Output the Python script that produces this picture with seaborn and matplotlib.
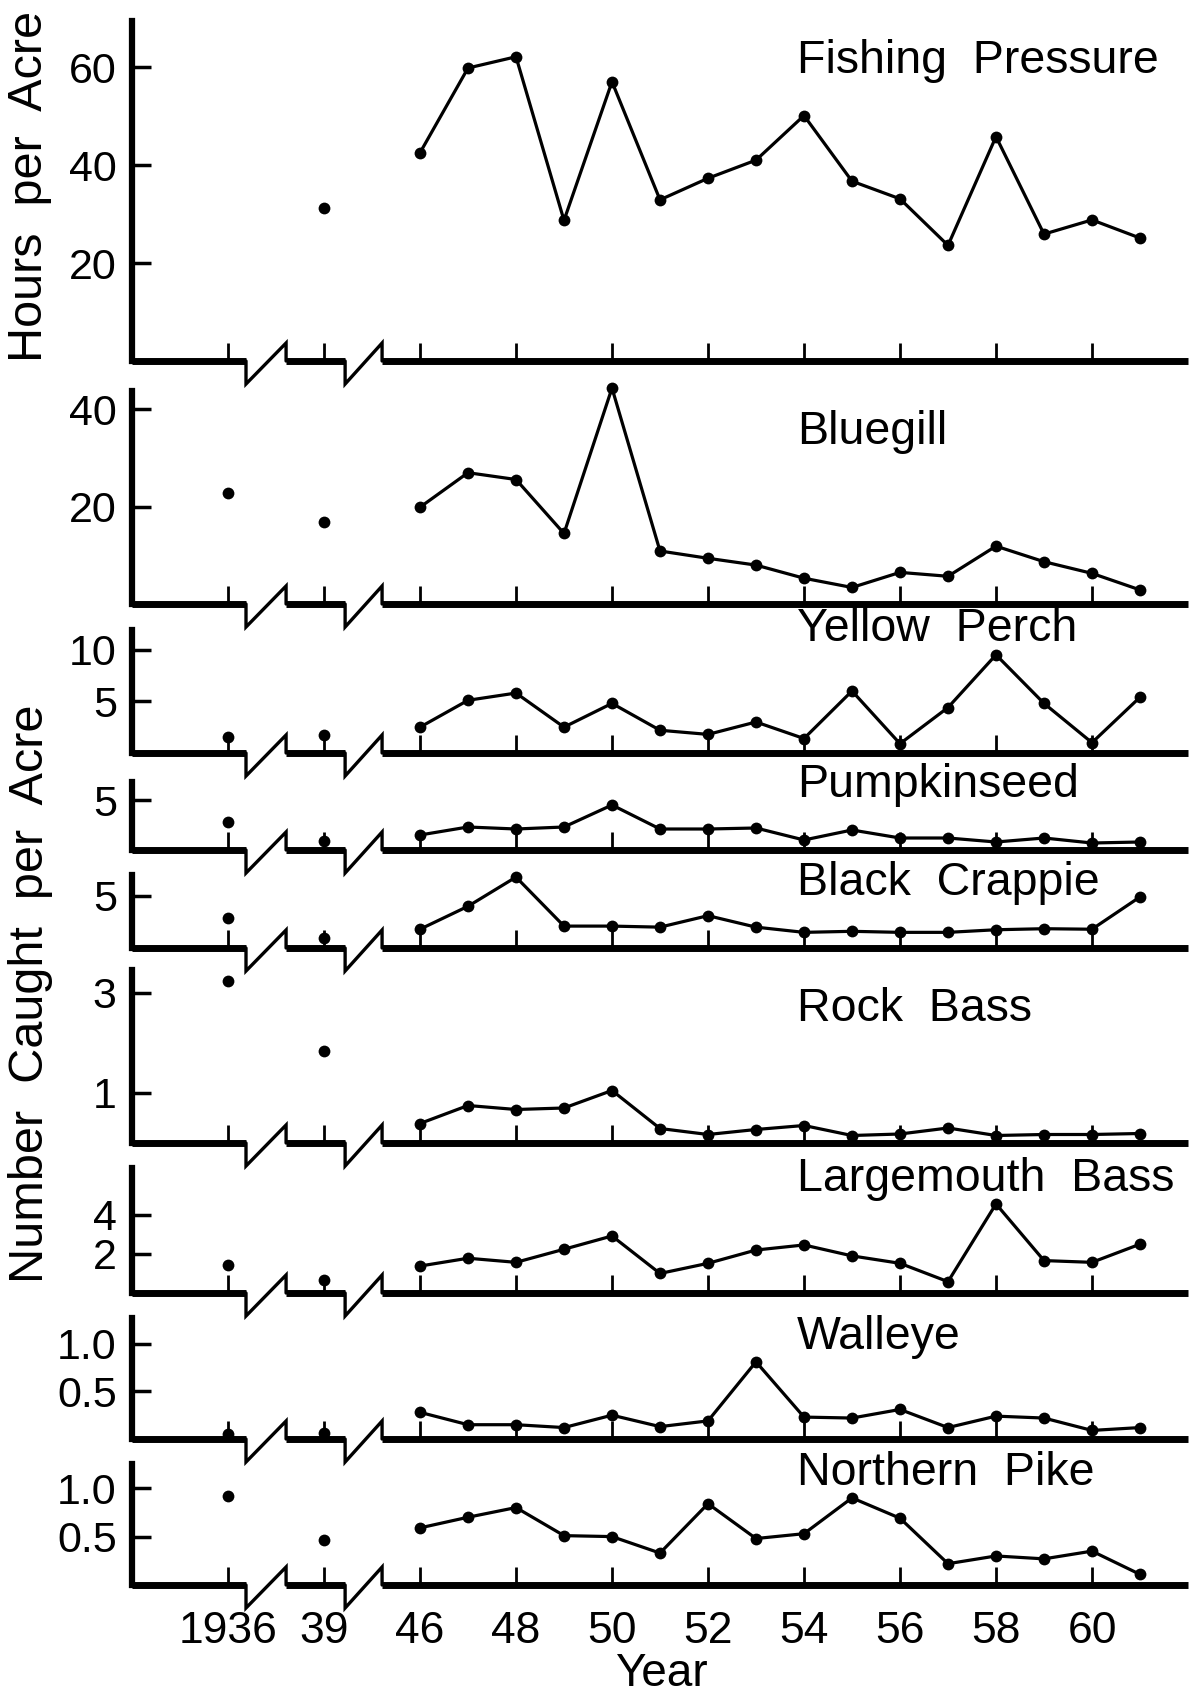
import numpy as np
import pandas as pd
import matplotlib
matplotlib.use("Agg")
import matplotlib.pyplot as plt
import seaborn as sns

# ---------------- data ----------------
years = [1936, 1939, 1946, 1947, 1948, 1949, 1950, 1951, 1952, 1953,
         1954, 1955, 1956, 1957, 1958, 1959, 1960, 1961]
nan = np.nan
fishing_pressure = [nan, 31.3, 42.5, 59.8, 62.1, 28.7, 57.0, 32.9, 37.3, 41.0,
                    50.1, 36.7, 33.1, 23.6, 45.8, 25.9, 28.8, 25.1]
bluegill = [22.9, 16.8, 19.9, 27.0, 25.6, 14.5, 44.4, 10.9, 9.4, 8.0,
            5.3, 3.4, 6.5, 5.7, 11.9, 8.7, 6.3, 2.9]
yellow_perch = [1.5, 1.7, 2.5, 5.1, 5.8, 2.5, 4.8, 2.2, 1.8, 3.0,
                1.4, 6.0, 0.9, 4.4, 9.5, 4.8, 1.0, 5.4]
pumpkinseed = [2.8, 0.9, 1.5, 2.3, 2.1, 2.3, 4.5, 2.1, 2.1, 2.2,
               1.0, 2.0, 1.2, 1.2, 0.8, 1.2, 0.7, 0.8]
black_crappie = [2.9, 1.0, 1.8, 4.0, 6.8, 2.1, 2.1, 2.0, 3.1, 2.0,
                 1.5, 1.6, 1.5, 1.5, 1.75, 1.85, 1.8, 4.9]
rock_bass = [3.23, 1.85, 0.39, 0.75, 0.67, 0.70, 1.05, 0.29, 0.17, 0.27,
             0.35, 0.15, 0.18, 0.30, 0.15, 0.17, 0.17, 0.19]
largemouth_bass = [1.44, 0.67, 1.38, 1.78, 1.57, 2.24, 2.92, 1.0, 1.52, 2.2,
                   2.46, 1.9, 1.52, 0.58, 4.56, 1.66, 1.57, 2.5]
walleye = [0.05, 0.06, 0.28, 0.15, 0.15, 0.12, 0.25, 0.13, 0.19, 0.81,
           0.23, 0.22, 0.31, 0.12, 0.24, 0.22, 0.09, 0.12]
northern_pike = [0.92, 0.47, 0.59, 0.70, 0.80, 0.51, 0.50, 0.33, 0.84, 0.48,
                 0.53, 0.90, 0.69, 0.22, 0.30, 0.27, 0.35, 0.11]

tick_years = [1936, 1939, 1946, 1948, 1950, 1952, 1954, 1956, 1958, 1960]
tick_labels = ["1936", "39", "46", "48", "50", "52", "54", "56", "58", "60"]

titles = ["Fishing  Pressure", "Bluegill", "Yellow  Perch", "Pumpkinseed",
          "Black  Crappie", "Rock  Bass", "Largemouth  Bass", "Walleye",
          "Northern  Pike"]
series = [fishing_pressure, bluegill, yellow_perch, pumpkinseed, black_crappie,
          rock_bass, largemouth_bass, walleye, northern_pike]
yticks = [[20, 40, 60], [20, 40], [5, 10], [5], [5], [1, 3], [2, 4],
          [0.5, 1.0], [0.5, 1.0]]
ytick_labels = [["20", "40", "60"], ["20", "40"], ["5", "10"], ["5"], ["5"],
                ["1", "3"], ["2", "4"], ["0.5", "1.0"], ["0.5", "1.0"]]


def axis_position(year):
    """Broken time axis: 1936 and 1939 are squeezed in front of 1946."""
    if year == 1936:
        return 0
    if year == 1939:
        return 2
    return year - 1942


# ---------------- layout ----------------
W, H = 1199, 1693
LEFT, RIGHT = 132, 1188
XMIN, XMAX = -2, 20
# (top px, baseline px, y max)
layout = [(21, 361, 69.4), (391, 604, 43.8), (630, 753, 11.9), (782, 850, 6.8),
          (875, 948, 7.0), (970, 1143, 3.46), (1168, 1293, 6.4),
          (1318, 1439, 1.27), (1464, 1585, 1.25)]
title_baseline = [73, 444, 641, 797, 895, 1021, 1191, 1349, 1485]

sns.set_style("white")
plt.rcParams["font.family"] = ["Liberation Sans", "DejaVu Sans"]
plt.rcParams["text.color"] = "black"
plt.rcParams["xtick.color"] = "black"
plt.rcParams["ytick.color"] = "black"
plt.rcParams["xtick.labelcolor"] = "black"
plt.rcParams["ytick.labelcolor"] = "black"

fig = plt.figure(figsize=(W / 100, H / 100), dpi=100)

breaks = [(0.375, 1.21), (2.44, 3.21)]
tick_pos = [axis_position(y) for y in tick_years]

for i, (title, vals) in enumerate(zip(titles, series)):
    top, bot, ymax = layout[i]
    ax = fig.add_axes([LEFT / W, 1 - bot / H, (RIGHT - LEFT) / W, (bot - top) / H])
    ax.set_facecolor("none")
    df = pd.DataFrame({"year": years,
                       "pos": [axis_position(y) for y in years],
                       "value": vals})
    late = df[df["year"] >= 1946].dropna()
    early = df[df["year"] < 1946].dropna()
    sns.lineplot(data=late, x="pos", y="value", ax=ax, color="black",
                 linewidth=2.3, marker="o", markersize=8.5, markeredgewidth=0,
                 estimator=None, clip_on=False, zorder=5)
    sns.scatterplot(data=early, x="pos", y="value", ax=ax, color="black",
                    s=72, linewidth=0, clip_on=False, zorder=5)

    ax.set_xlim(XMIN, XMAX)
    ax.set_ylim(0, ymax)
    ax.set_xlabel("")
    ax.set_ylabel("")
    ax.set_xticks(tick_pos)
    ax.set_yticks(yticks[i])
    ax.set_yticklabels(ytick_labels[i])
    last = i == len(series) - 1
    if last:
        ax.set_xticklabels(tick_labels)
    ax.tick_params(axis="x", direction="in", length=13, width=2, color="black",
                   labelcolor="black", labelsize=32, pad=19,
                   labelbottom=last, bottom=True)
    ax.tick_params(axis="y", direction="in", length=14, width=2.5, color="black",
                   labelcolor="black", labelsize=31, pad=11, left=True)
    for s in ["top", "right", "bottom"]:
        ax.spines[s].set_visible(False)
    ax.spines["left"].set_linewidth(4.5)
    ax.spines["left"].set_color("black")

    # broken baseline with zig-zag marks
    d = ymax / (bot - top)
    xs = [XMIN] + [v for b in breaks for v in b] + [XMAX]
    for k in range(0, len(xs), 2):
        ax.plot([xs[k], xs[k + 1]], [0, 0], color="black", lw=5.0,
                solid_capstyle="butt", clip_on=False, zorder=4)
    for a, b in breaks:
        ax.plot([a, a, b, b], [0, -23 * d, 18 * d, 0], color="black", lw=2.4,
                clip_on=False, zorder=4, solid_joinstyle="miter")

    fig.text(797 / W, 1 - title_baseline[i] / H, title, fontsize=33.5,
             ha="left", va="baseline", color="black")

fig.text(30 / W, 1 - 186 / H, "Hours  per  Acre", rotation=90, fontsize=35,
         ha="center", va="center", color="black")
fig.text(31 / W, 1 - 994 / H, "Number  Caught  per  Acre", rotation=90,
         fontsize=35, ha="center", va="center", color="black")
fig.text(661 / W, 1 - 1686 / H, "Year", fontsize=33, ha="center",
         va="baseline", color="black")

fig.savefig("out.png", dpi=100, facecolor="white")
